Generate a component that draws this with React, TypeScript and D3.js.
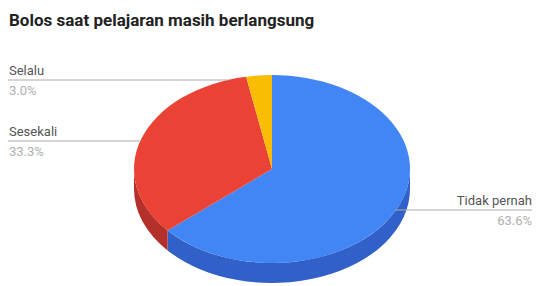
import React, { useEffect, useRef } from 'react'
import * as d3 from 'd3'

// data
const categories = ['Tidak pernah', 'Sesekali', 'Selalu']
const values = [63.6, 33.3, 3.0]
const percentLabels = ['63.6%', '33.3%', '3.0%']
const colors = ['#4285f4', '#ea4335', '#fbbc04']
const sideColors = ['#3060c8', '#b3312a', '#c49200']

const W = 538, H = 286
const cx = 272, cy = 169, rx = 138, ry = 94, depth = 20
const k = ry / rx

export default function App() {
  const ref = useRef<SVGSVGElement>(null)

  useEffect(() => {
    const svg = d3.select(ref.current)
    svg.selectAll('*').remove()

    svg.append('text')
      .attr('x', 9).attr('y', 26)
      .attr('font-family', 'Roboto, Arial, sans-serif')
      .attr('font-size', 17).attr('font-weight', 'bold')
      .attr('fill', '#222')
      .text('Bolos saat pelajaran masih berlangsung')

    const pie = d3.pie<number>().sort(null).value(d => d)
    const arcs = pie(values)

    // the pie is drawn as a circle of radius rx and squashed vertically
    const g = svg.append('g').attr('transform', `translate(${cx},${cy}) scale(1,${k})`)

    // front walls (pie angles between PI/2 and 3PI/2 face the viewer)
    arcs.forEach((a, i) => {
      const a0 = Math.max(a.startAngle, Math.PI / 2)
      const a1 = Math.min(a.endAngle, Math.PI * 1.5)
      if (a1 <= a0) return
      const dz = depth / k
      const p = d3.path()
      const t0 = a0 - Math.PI / 2, t1 = a1 - Math.PI / 2
      p.moveTo(rx * Math.cos(t0), rx * Math.sin(t0))
      p.arc(0, 0, rx, t0, t1, false)
      p.lineTo(rx * Math.cos(t1), rx * Math.sin(t1) + dz)
      p.arc(0, dz, rx, t1, t0, true)
      p.closePath()
      g.append('path').attr('d', p.toString()).attr('fill', sideColors[i])
    })

    const arc = d3.arc<d3.PieArcDatum<number>>().innerRadius(0).outerRadius(rx)
    g.selectAll('path.top')
      .data(arcs)
      .join('path')
      .attr('class', 'top')
      .attr('d', arc)
      .attr('fill', (d, i) => colors[i])

    // labels with leader lines
    const labelPos = [
      { side: 'right', y: 210 },
      { side: 'left', y: 141 },
      { side: 'left', y: 80 },
    ]
    const font = 'Roboto, Arial, sans-serif'
    labelPos.forEach((lp, i) => {
      const dy = (lp.y - cy) / ry
      const ex = rx * Math.sqrt(Math.max(0, 1 - dy * dy))
      const left = lp.side === 'left'
      const tx = left ? 9 : 532
      svg.append('line')
        .attr('x1', left ? 8 : cx + ex - 1).attr('x2', left ? cx - ex + 1 : 532)
        .attr('y1', lp.y).attr('y2', lp.y)
        .attr('stroke', '#aaa').attr('stroke-width', 1)
      svg.append('text').attr('x', tx).attr('y', lp.y - 5)
        .attr('text-anchor', left ? 'start' : 'end')
        .attr('font-family', font).attr('font-size', 13).attr('fill', '#555')
        .text(categories[i])
      svg.append('text').attr('x', tx).attr('y', lp.y + 15)
        .attr('text-anchor', left ? 'start' : 'end')
        .attr('font-family', font).attr('font-size', 13).attr('fill', '#b0b0b0')
        .text(percentLabels[i])
    })
  }, [])

  return (
    <svg ref={ref} width={W} height={H}
      style={{ position: 'absolute', left: 0, top: 0, background: '#fff' }} />
  )
}
